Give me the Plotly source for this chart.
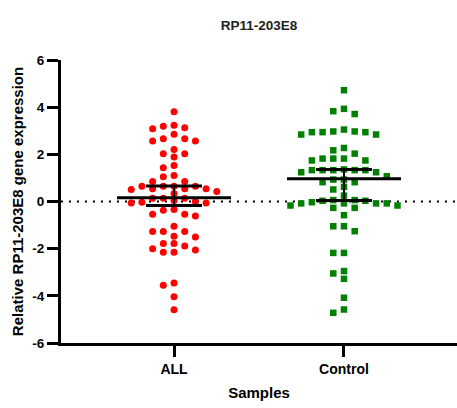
import plotly.graph_objects as go

# ---------------- data ----------------
categories = ["ALL", "Control"]

all_values = [
    3.81, 3.23, 3.19, 3.13, 3.08, 2.85, 2.66, 2.66, 2.57, 2.57,
    2.20, 2.03, 2.03, 1.89, 1.53, 1.43, 1.10, 1.05, 0.85, 0.85,
    0.65, 0.65, 0.65, 0.65, 0.54, 0.54, 0.54, 0.51, 0.42, 0.34,
    0.14, 0.14, 0.14, 0.04, 0.00, -0.03, -0.06, -0.06, -0.34, -0.37,
    -0.54, -0.54, -0.62, -1.05, -1.27, -1.27, -1.27, -1.47, -1.50, -1.78,
    -1.78, -1.89, -2.00, -2.06, -2.15, -2.15, -3.46, -3.55, -4.04, -4.59,
]

control_values = [
    4.72, 3.93, 3.83, 3.71, 3.05, 2.97, 2.97, 2.94, 2.94, 2.94,
    2.84, 2.84, 2.27, 2.17, 2.03, 1.82, 1.82, 1.82, 1.74, 1.74,
    1.36, 1.33, 1.33, 1.33, 1.33, 1.33, 1.24, 1.24, 1.07, 0.93,
    0.93, 0.82, 0.82, 0.62, 0.51, 0.25, 0.06, 0.06, 0.03, 0.03,
    -0.03, -0.08, -0.08, -0.08, -0.08, -0.17, -0.17, -0.27, -0.27, -0.58,
    -1.05, -1.05, -1.26, -2.18, -2.18, -2.95, -3.05, -3.28, -4.08, -4.58,
    -4.72,
]

center_values = [0.16, 0.96]   # central line of each group
lower_values = [-0.17, 0.04]   # lower whisker
upper_values = [0.66, 1.36]    # upper whisker

y_tick_values = [-6, -4, -2, 0, 2, 4, 6]
y_tick_labels = ["-6", "-4", "-2", "0", "2", "4", "6"]

# ---------------- layout geometry ----------------
W, H = 457, 408
ML, MR, MT, MB = 61, 0, 60, 65
x_range = [-0.665, 1.665]
y_range = [-6, 6]
px_per_x = (W - ML - MR) / (x_range[1] - x_range[0])
px_per_y = (H - MT - MB) / (y_range[1] - y_range[0])

COL_PX = 10.7      # horizontal step between swarm columns
GAP_PX = 7.0       # minimum vertical spacing inside a column


def swarm_offsets(values):
    """Greedy column beeswarm: returns x offsets (data units) per value."""
    order = sorted(range(len(values)), key=lambda i: -values[i])
    columns = {}
    offsets = [0.0] * len(values)
    candidates = [0]
    for k in range(1, 20):
        candidates += [-k, k]
    for i in order:
        v = values[i]
        for c in candidates:
            placed = columns.get(c, [])
            if all(abs(v - p) * px_per_y >= GAP_PX for p in placed):
                columns.setdefault(c, []).append(v)
                offsets[i] = c * COL_PX / px_per_x
                break
    return offsets


FONT = "Liberation Sans, Arial, sans-serif"
fig = go.Figure()

groups = [
    (all_values, "#ff0000", "circle", 7),
    (control_values, "#008000", "square", 6.5),
]

for gi, (vals, color, symbol, size) in enumerate(groups):
    offs = swarm_offsets(vals)
    fig.add_trace(go.Scatter(
        x=[gi + o for o in offs], y=vals, mode="markers",
        marker=dict(color=color, symbol=symbol, size=size, line=dict(width=0)),
        name=categories[gi], showlegend=False, hoverinfo="y",
    ))

mean_hw = 57 / px_per_x
cap_hw = 28 / px_per_x
for gi in range(len(categories)):
    m, lo, hi = center_values[gi], lower_values[gi], upper_values[gi]
    fig.add_trace(go.Scatter(
        x=[gi, gi], y=[lo, hi], mode="lines",
        line=dict(color="black", width=2), showlegend=False, hoverinfo="skip",
    ))
    fig.add_trace(go.Scatter(
        x=[gi - cap_hw, gi + cap_hw, None, gi - cap_hw, gi + cap_hw],
        y=[hi, hi, None, lo, lo], mode="lines",
        line=dict(color="black", width=3), showlegend=False, hoverinfo="skip",
    ))
    fig.add_trace(go.Scatter(
        x=[gi - mean_hw, gi + mean_hw], y=[m, m], mode="lines",
        line=dict(color="black", width=3), showlegend=False, hoverinfo="skip",
    ))

# dotted zero reference line
fig.add_shape(type="line", xref="paper", x0=0, x1=1, yref="y", y0=0, y1=0,
              line=dict(color="black", width=2, dash="2px,6px"), layer="below")

fig.update_layout(
    width=W, height=H,
    margin=dict(l=ML, r=MR, t=MT, b=MB, autoexpand=False),
    paper_bgcolor="white", plot_bgcolor="white",
    font=dict(family=FONT, color="black"),
    title=dict(text="RP11-203E8", x=0.5, xref="paper", xanchor="center",
               y=1 - 25 / H, yref="container", yanchor="middle",
               font=dict(size=13.5, weight="bold", family=FONT, color="#222")),
    showlegend=False,
)

fig.update_xaxes(
    range=x_range, tickmode="array", tickvals=[0, 1], ticktext=categories,
    showgrid=False, zeroline=False, automargin=False,
    showline=True, linecolor="black", linewidth=3,
    ticks="outside", ticklen=11, tickwidth=3, tickcolor="black",
    tickfont=dict(size=14, weight="bold", family=FONT, color="black"),
    title=dict(text="Samples", standoff=12,
               font=dict(size=15, weight="bold", family=FONT, color="black")),
)

fig.update_yaxes(
    range=y_range, tickmode="array", tickvals=y_tick_values, ticktext=y_tick_labels,
    showgrid=False, zeroline=False, automargin=False,
    showline=True, linecolor="black", linewidth=3,
    ticks="outside", ticklen=11, tickwidth=3, tickcolor="black",
    tickfont=dict(size=13.5, weight="bold", family=FONT, color="black"),
    title=dict(text="Relative RP11-203E8 gene expression", standoff=6,
               font=dict(size=15, weight="bold", family=FONT, color="black")),
)

fig.write_html("out.html",
               config={"displayModeBar": False},
               post_script="document.body.style.margin='0';document.body.style.overflow='hidden';")
